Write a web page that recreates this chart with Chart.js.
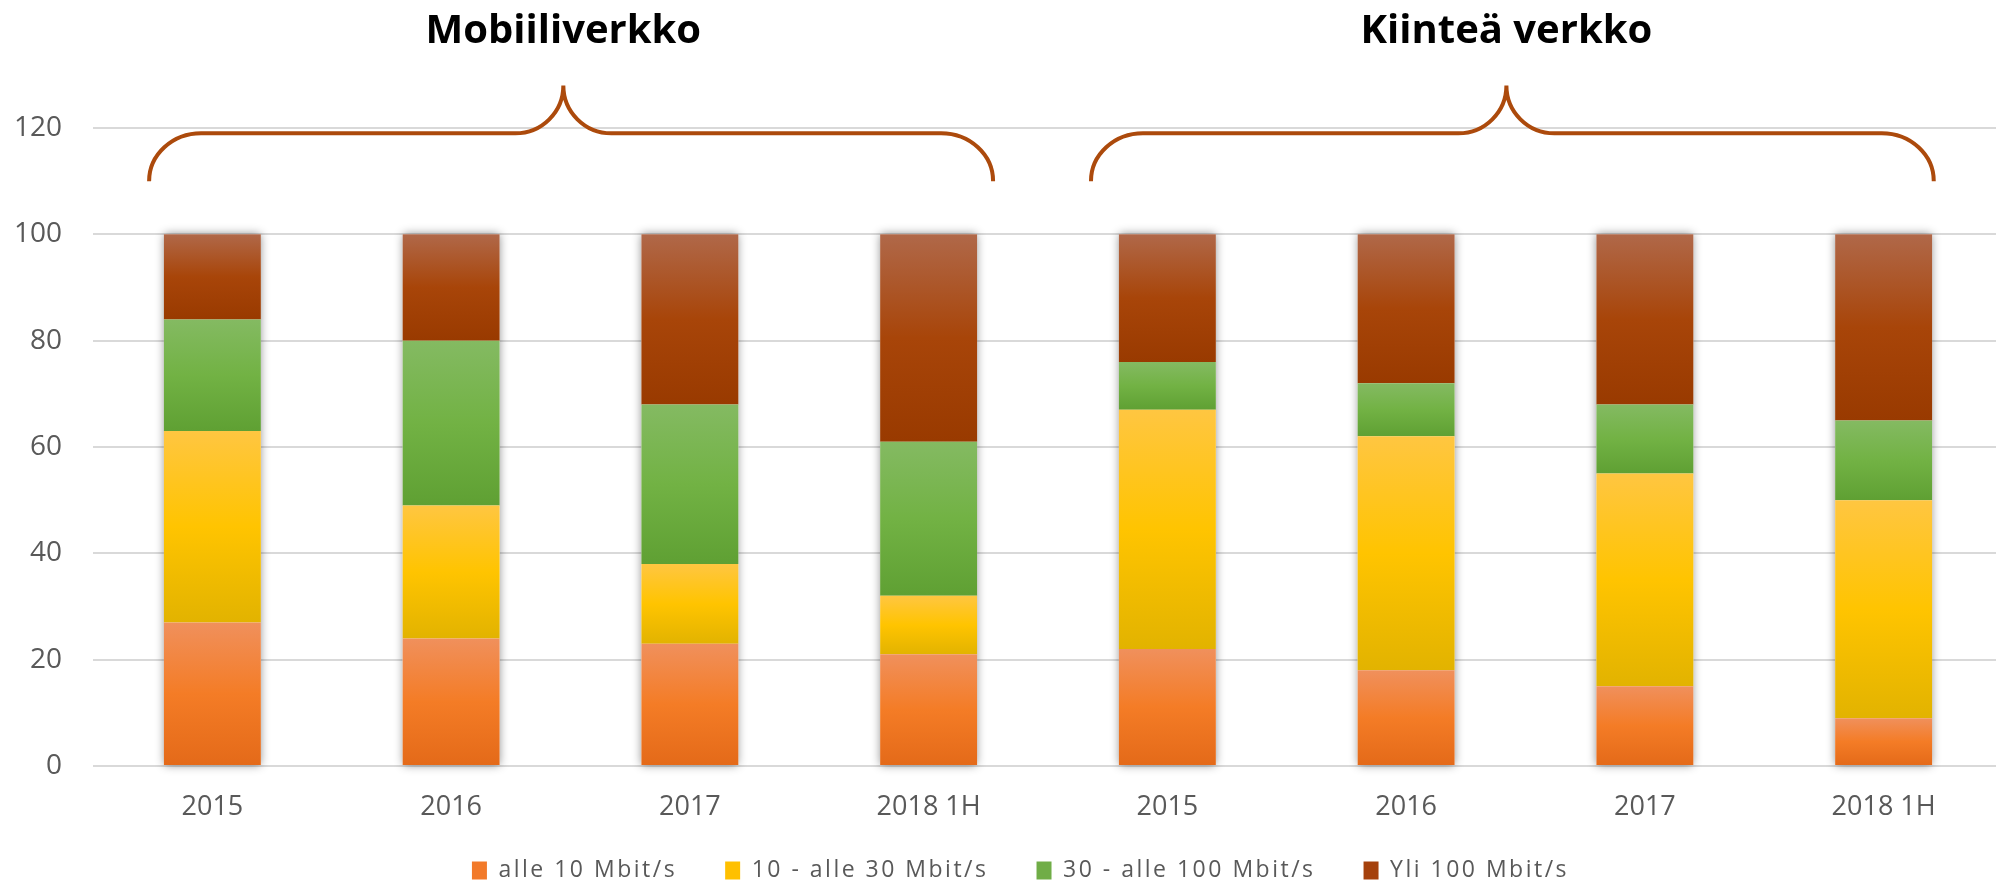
<!DOCTYPE html>
<html>
<head>
<meta charset="utf-8">
<script src="https://cdn.jsdelivr.net/npm/chart.js@4/dist/chart.umd.min.js"></script>
<style>
  html, body { margin: 0; padding: 0; background: #fff; overflow: hidden; }
  #wrap { width: 2006px; height: 885px; position: relative; }
</style>
</head>
<body>
<div id="wrap"><canvas id="c"></canvas></div>
<script>
// ---- data ----
const categories = ['2015', '2016', '2017', '2018 1H', '2015', '2016', '2017', '2018 1H'];
const seriesNames = ['alle 10 Mbit/s', '10 - alle 30 Mbit/s', '30 - alle 100 Mbit/s', 'Yli 100 Mbit/s'];
const alle10   = [27, 24, 23, 21, 22, 18, 15, 9];
const alle30   = [36, 25, 15, 11, 45, 44, 40, 41];
const alle100  = [21, 31, 30, 29, 9, 10, 13, 15];
const yli100   = [16, 20, 32, 39, 24, 28, 32, 35];
const groupTitles = ['Mobiiliverkko', 'Kiinteä verkko'];
// brace spans in category-index units: [start, tip, end]
const groupBraceStart = [-0.265, 3.68];
const groupBraceTip   = [1.47, 5.42];
const groupBraceEnd   = [3.27, 7.21];

// ---- styles ----
const gradStops = [
  ['#F0905C', '#F47C26', '#E46A19'],
  ['#FFC641', '#FFC400', '#E2B300'],
  ['#84BA62', '#72B244', '#5FA033'],
  ['#B06849', '#A84509', '#993A00']
];
const solid = ['#F27A2A', '#FFC000', '#70AD47', '#A5410C'];
const LEGEND_SPACING = '2.5px';

const shadowPlugin = {
  id: 'stackShadow',
  beforeDatasetsDraw(chart) {
    const ctx = chart.ctx;
    const first = chart.getDatasetMeta(0).data;
    const last = chart.getDatasetMeta(chart.data.datasets.length - 1).data;
    ctx.save();
    ctx.shadowColor = 'rgba(0,0,0,0.45)';
    ctx.shadowBlur = 9;
    ctx.fillStyle = '#ffffff';
    first.forEach((el, i) => {
      const top = last[i].y;
      const w = el.width;
      ctx.fillRect(el.x - w / 2, top, w, el.base - top);
    });
    ctx.restore();
  },
  beforeDatasetDraw(chart, args) {
    const ctx = chart.ctx;
    const stops = gradStops[args.index];
    args.meta.data.forEach(el => {
      const g = ctx.createLinearGradient(0, el.y, 0, el.base);
      g.addColorStop(0, stops[0]);
      g.addColorStop(0.5, stops[1]);
      g.addColorStop(1, stops[2]);
      el.options = Object.assign({}, el.options, { backgroundColor: g });
    });
  }
};

const legendTweak = {
  id: 'legendTweak',
  beforeUpdate(chart) {
    const lg = chart.legend;
    if (!lg || lg._tweaked) return;
    lg._tweaked = true;
    const origFit = lg.fit.bind(lg);
    const origDraw = lg.draw.bind(lg);
    lg.fit = function () {
      const ctx = this.ctx;
      const prev = ctx.letterSpacing;
      ctx.letterSpacing = LEGEND_SPACING;
      origFit();
      ctx.letterSpacing = prev;
      this.height = 58;
    };
    lg.draw = function () {
      const ctx = this.ctx;
      const prev = ctx.letterSpacing;
      ctx.letterSpacing = LEGEND_SPACING;
      const t = this.top, l = this.left, r = this.right;
      this.top = t - 12;
      this.left = l + 12;
      this.right = r + 12;
      origDraw();
      this.top = t; this.left = l; this.right = r;
      ctx.letterSpacing = prev;
    };
  }
};

const bracePlugin = {
  id: 'braces',
  afterDraw(chart) {
    const ctx = chart.ctx;
    const xs = chart.scales.x, ys = chart.scales.y;
    const x0p = xs.getPixelForValue(0);
    const w = xs.getPixelForValue(1) - x0p;
    const X = v => x0p + v * w;
    const yEnd = ys.getPixelForValue(110);
    const yH = ys.getPixelForValue(119);
    const yTip = ys.getPixelForValue(128);
    const yTitle = ys.getPixelForValue(138.2);
    const k = 0.5523;
    ctx.save();
    ctx.strokeStyle = '#AC4A0C';
    ctx.lineWidth = 4;
    ctx.lineCap = 'butt';
    for (let g = 0; g < groupTitles.length; g++) {
      const a = X(groupBraceStart[g]), t = X(groupBraceTip[g]), b = X(groupBraceEnd[g]);
      const r1 = 52, r2 = 48;
      const v1 = yEnd - yH, v2 = yH - yTip;
      ctx.beginPath();
      ctx.moveTo(a, yEnd);
      ctx.bezierCurveTo(a, yEnd - v1 * k, a + r1 - r1 * k, yH, a + r1, yH);
      ctx.lineTo(t - r2, yH);
      ctx.bezierCurveTo(t - r2 + r2 * k, yH, t, yH - v2 + v2 * k, t, yTip);
      ctx.moveTo(t, yTip);
      ctx.bezierCurveTo(t, yH - v2 + v2 * k, t + r2 - r2 * k, yH, t + r2, yH);
      ctx.lineTo(b - r1, yH);
      ctx.bezierCurveTo(b - r1 + r1 * k, yH, b, yEnd - v1 * k, b, yEnd);
      ctx.stroke();
      ctx.fillStyle = '#000000';
      ctx.font = 'bold 40px "Open Sans"';
      ctx.textAlign = 'center';
      ctx.textBaseline = 'middle';
      ctx.fillText(groupTitles[g], t, yTitle);
    }
    ctx.restore();
  }
};

const seriesData = [alle10, alle30, alle100, yli100];
const datasets = seriesData.map((d, i) => ({
  label: seriesNames[i],
  data: d,
  backgroundColor: solid[i],
  borderWidth: 0,
  categoryPercentage: 1.0,
  barPercentage: 0.406
}));

new Chart(document.getElementById('c'), {
  type: 'bar',
  data: { labels: categories, datasets },
  plugins: [shadowPlugin, bracePlugin, legendTweak],
  options: {
    responsive: true,
    maintainAspectRatio: false,
    animation: false,
    layout: { padding: { top: 128, left: 14, right: 3, bottom: 4 } },
    plugins: {
      tooltip: { enabled: false },
      legend: {
        position: 'bottom',
        labels: {
          boxWidth: 15,
          boxHeight: 18,
          padding: 48,
          color: '#595959',
          font: { family: '"Open Sans"', size: 23 }
        }
      }
    },
    scales: {
      x: {
        stacked: true,
        afterFit: s => { s.height = 57; },
        grid: { display: false, drawTicks: false },
        border: { display: false },
        ticks: { color: '#595959', font: { family: '"Open Sans"', size: 27 }, padding: 25 }
      },
      y: {
        stacked: true,
        min: 0, max: 120,
        afterFit: s => { s.width = 79; },
        ticks: { stepSize: 20, color: '#595959', font: { family: '"Open Sans"', size: 28 }, padding: 31 },
        grid: { color: '#D9D9D9', lineWidth: 2, drawTicks: false },
        border: { display: false }
      }
    }
  }
});
</script>
</body>
</html>
